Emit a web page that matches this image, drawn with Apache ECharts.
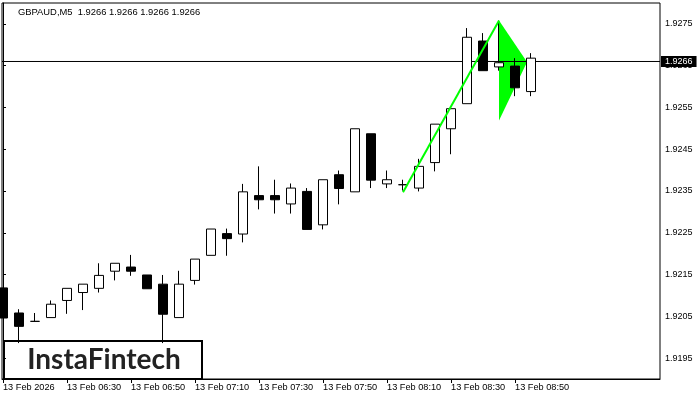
<!DOCTYPE html>
<html>
<head>
<meta charset="utf-8">
<script src="https://cdn.jsdelivr.net/npm/echarts@6/dist/echarts.min.js"></script>
<style>
  html, body { margin: 0; padding: 0; background: #fff; }
  #chart { width: 700px; height: 400px; }
</style>
</head>
<body>
<div id="chart"></div>
<script>
// M5 bars, 06:10 .. 08:55
var times = ["06:10", "06:15", "06:20", "06:25", "06:30", "06:35", "06:40", "06:45", "06:50", "06:55",
  "07:00", "07:05", "07:10", "07:15", "07:20", "07:25", "07:30", "07:35", "07:40", "07:45",
  "07:50", "07:55", "08:00", "08:05", "08:10", "08:15", "08:20", "08:25", "08:30", "08:35",
  "08:40", "08:45", "08:50", "08:55"];
var opens = [1.92118, 1.92058, 1.92038, 1.92047, 1.92088, 1.92107, 1.92117, 1.92158, 1.92168, 1.92149,
  1.92127, 1.92047, 1.92136, 1.92196, 1.92248, 1.92247, 1.92339, 1.92339, 1.92319, 1.92349,
  1.92269, 1.92389, 1.92348, 1.92487, 1.92367, 1.92365, 1.92357, 1.92418, 1.92499, 1.92559,
  1.92709, 1.92647, 1.92649, 1.92588];
var closes = [1.92046, 1.92026, 1.92038, 1.92079, 1.92117, 1.92127, 1.92148, 1.92177, 1.92158, 1.92116,
  1.92055, 1.92127, 1.92187, 1.92259, 1.92236, 1.92348, 1.92329, 1.92329, 1.92357, 1.92258,
  1.92377, 1.92356, 1.92499, 1.92376, 1.92377, 1.92365, 1.92409, 1.92510, 1.92547, 1.92718,
  1.92638, 1.92657, 1.92597, 1.92668];
var lows = [1.92046, 1.91986, 1.92038, 1.92047, 1.92056, 1.92065, 1.92107, 1.92136, 1.92147, 1.92116,
  1.91986, 1.92047, 1.92126, 1.92196, 1.92195, 1.92227, 1.92306, 1.92296, 1.92296, 1.92258,
  1.92258, 1.92318, 1.92348, 1.92357, 1.92357, 1.92351, 1.92349, 1.92397, 1.92438, 1.92559,
  1.92638, 1.92638, 1.92577, 1.92577];
var highs = [1.92118, 1.92067, 1.92058, 1.92088, 1.92117, 1.92127, 1.92177, 1.92177, 1.92197, 1.92149,
  1.92149, 1.92159, 1.92187, 1.92259, 1.92260, 1.92367, 1.92409, 1.92377, 1.92368, 1.92357,
  1.92377, 1.92399, 1.92499, 1.92487, 1.92399, 1.92377, 1.92427, 1.92510, 1.92547, 1.92740,
  1.92728, 1.92758, 1.92668, 1.92680];

var xTickIdx = [0, 4, 8, 12, 16, 20, 24, 28, 32];
var xTickLabels = ["13 Feb 2026", "13 Feb 06:30", "13 Feb 06:50", "13 Feb 07:10", "13 Feb 07:30",
  "13 Feb 07:50", "13 Feb 08:10", "13 Feb 08:30", "13 Feb 08:50"];
var yTicks = [1.9195, 1.9205, 1.9215, 1.9225, 1.9235, 1.9245, 1.9255, 1.9265, 1.9275];

var lastPrice = 1.9266;
// flagpole and pennant (bar index, price)
var poleX = [25, 31];
var poleY = [1.92347, 1.92758];
var pennantX = [31, 32.75, 31];
var pennantY = [1.92758, 1.92659, 1.92519];

var candles = times.map(function (t, i) {
  return [i, opens[i], closes[i], lows[i], highs[i]];
});

var chart = echarts.init(document.getElementById("chart"));
var font = "Liberation Sans";

chart.setOption({
  animation: false,
  backgroundColor: "#fff",
  title: {
    text: "GBPAUD,M5  " + [lastPrice, lastPrice, lastPrice, lastPrice].map(function (v) { return v.toFixed(4); }).join(" "),
    left: 13,
    top: 3,
    textStyle: { fontFamily: font, fontSize: 9.4, fontWeight: "normal", color: "#000" }
  },
  grid: {
    left: 2, right: 40, top: 3, bottom: 21,
    show: true, borderColor: "#000", borderWidth: 1
  },
  xAxis: {
    type: "value",
    min: -0.0625,
    max: 41.06,
    axisLine: { show: true, onZero: false, lineStyle: { color: "#000" } },
    axisTick: { show: true, length: 4, customValues: xTickIdx, lineStyle: { color: "#000" } },
    axisLabel: {
      customValues: xTickIdx,
      fontFamily: font, fontSize: 9.2, color: "#000",
      align: "left", margin: 4,
      formatter: function (v) { return xTickLabels[xTickIdx.indexOf(Math.round(v))] || ""; }
    },
    splitLine: { show: false }
  },
  yAxis: {
    type: "value",
    position: "right",
    min: 1.9190,
    max: 1.9280,
    axisLine: { show: true, lineStyle: { color: "#000" } },
    axisTick: { show: true, length: 3, customValues: yTicks, lineStyle: { color: "#000" } },
    axisLabel: {
      customValues: yTicks,
      fontFamily: font, fontSize: 9, color: "#000", margin: 5,
      formatter: function (v) { return v.toFixed(4); }
    },
    splitLine: { show: false }
  },
  series: [
    {
      type: "custom",
      z: 1,
      data: [0],
      renderItem: function (params, api) {
        var pts = pennantX.map(function (x, i) { return api.coord([x, pennantY[i]]); });
        return { type: "polygon", shape: { points: pts }, style: { fill: "#00ff00" } };
      }
    },
    {
      // bid line
      type: "line",
      z: 2,
      symbol: "none",
      lineStyle: { color: "#000", width: 1 },
      data: [[-0.0625, lastPrice], [41.06, lastPrice]],
      endLabel: {
        show: true,
        distance: 1,
        formatter: lastPrice.toFixed(4),
        fontFamily: font, fontSize: 9, color: "#fff",
        backgroundColor: "#000", padding: [1, 4, 1, 4]
      }
    },
    {
      type: "candlestick",
      z: 3,
      barWidth: 10,
      encode: { x: 0, y: [1, 2, 3, 4] },
      itemStyle: {
        color: "#fff", color0: "#000",
        borderColor: "#000", borderColor0: "#000", borderColorDoji: "#000",
        borderWidth: 1
      },
      data: candles
    },
    {
      type: "line",
      z: 4,
      symbol: "none",
      lineStyle: { color: "#00ff00", width: 2 },
      data: poleX.map(function (x, i) { return [x, poleY[i]]; })
    }
  ],
  graphic: [
    {
      type: "group",
      left: 3,
      top: 340,
      z: 100,
      children: [
        { type: "rect", shape: { x: 0, y: 0, width: 198, height: 38 },
          style: { fill: "#fff", stroke: "#000", lineWidth: 2 } },
        { type: "text", x: 100, y: 19,
          style: { text: "InstaFintech", fontFamily: "Lato", fontWeight: "bold", fontSize: 28, fill: "#222",
            align: "center", verticalAlign: "middle" } }
      ]
    }
  ]
});
</script>
</body>
</html>
